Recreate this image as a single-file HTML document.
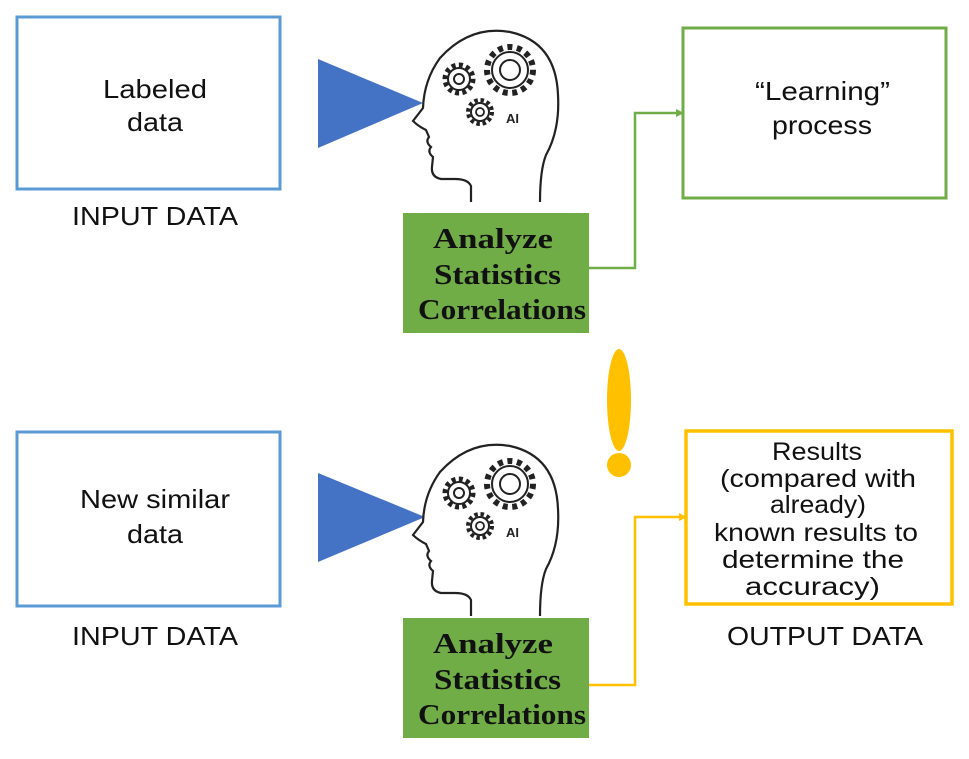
<!DOCTYPE html>
<html><head><meta charset="utf-8"><style>
body{margin:0;background:#fff;width:969px;height:754px;overflow:hidden;font-family:"Liberation Sans",sans-serif}
</style></head><body>
<svg width="969" height="754" xmlns="http://www.w3.org/2000/svg" font-family="Liberation Sans, sans-serif">
<defs>
<g id="head">
<path d="M471,202 L471,186 Q468,179 455,179 L441,179 Q431,177 432,167 L433,157 Q427,152 431,147 Q425,142 429,137 L426,130 Q418,126 413,121 L423,108 Q424,80 440,58 Q470,25 510,32 Q556,42 558,95 Q560,130 546,155 Q540,170 540,202" fill="none" stroke="#222" stroke-width="2.2"/>
<circle cx="510" cy="70" r="18" fill="none" stroke="#222" stroke-width="2"/>
<circle cx="510" cy="70" r="23" fill="none" stroke="#222" stroke-width="6" stroke-dasharray="5 4.6"/>
<circle cx="510" cy="70" r="10" fill="none" stroke="#222" stroke-width="2"/>
<circle cx="459" cy="79" r="11" fill="none" stroke="#222" stroke-width="2"/>
<circle cx="459" cy="79" r="14" fill="none" stroke="#222" stroke-width="5" stroke-dasharray="4 3.3"/>
<circle cx="459" cy="79" r="5" fill="none" stroke="#222" stroke-width="2"/>
<circle cx="480" cy="112" r="9" fill="none" stroke="#222" stroke-width="2"/>
<circle cx="480" cy="112" r="12" fill="none" stroke="#222" stroke-width="4" stroke-dasharray="3.5 2.8"/>
<circle cx="480" cy="112" r="4" fill="none" stroke="#222" stroke-width="1.8"/>
<text x="506" y="123" font-size="13" font-weight="bold" fill="#222">AI</text>
</g>
</defs>
<g font-size="26" fill="#111" lengthAdjust="spacingAndGlyphs">
<!-- top -->
<rect x="17" y="17" width="263" height="172" fill="none" stroke="#5b9bd5" stroke-width="3"/>
<text x="103" y="98" textLength="104" lengthAdjust="spacingAndGlyphs">Labeled</text>
<text x="127" y="131" textLength="56" lengthAdjust="spacingAndGlyphs">data</text>
<text x="72" y="225" textLength="166" lengthAdjust="spacingAndGlyphs">INPUT DATA</text>
<polygon points="318,59 423,103 318,148" fill="#4472c4"/>
<use href="#head"/>
<rect x="403" y="213" width="186" height="120" fill="#70ad47"/>
<g font-family="Liberation Serif, serif" font-weight="bold" font-size="28" fill="#111">
<text x="433" y="248" textLength="120" lengthAdjust="spacingAndGlyphs">Analyze</text>
<text x="434" y="284" textLength="127" lengthAdjust="spacingAndGlyphs">Statistics</text>
<text x="418" y="319" textLength="168" lengthAdjust="spacingAndGlyphs">Correlations</text></g>
<polyline points="589,268 635,268 635,113 676,113" fill="none" stroke="#70ad47" stroke-width="2.5"/>
<polygon points="676,109 684,113 676,117" fill="#70ad47"/>
<rect x="683" y="28" width="263" height="170" fill="none" stroke="#70ad47" stroke-width="3"/>
<text x="755" y="100" textLength="135" lengthAdjust="spacingAndGlyphs">“Learning”</text>
<text x="772" y="134" textLength="100" lengthAdjust="spacingAndGlyphs">process</text>
<!-- exclamation -->
<ellipse cx="619" cy="400" rx="12" ry="51" fill="#ffc000"/>
<ellipse cx="619" cy="465" rx="12" ry="12" fill="#ffc000"/>
<!-- bottom -->
<rect x="17" y="432" width="263" height="174" fill="none" stroke="#5b9bd5" stroke-width="3"/>
<text x="80" y="508" textLength="150" lengthAdjust="spacingAndGlyphs">New similar</text>
<text x="127" y="543" textLength="56" lengthAdjust="spacingAndGlyphs">data</text>
<text x="72" y="645" textLength="166" lengthAdjust="spacingAndGlyphs">INPUT DATA</text>
<polygon points="318,473 425,517 318,562" fill="#4472c4"/>
<g transform="translate(0,414)"><use href="#head"/></g>
<rect x="403" y="618" width="186" height="120" fill="#70ad47"/>
<g font-family="Liberation Serif, serif" font-weight="bold" font-size="28" fill="#111">
<text x="433" y="653" textLength="120" lengthAdjust="spacingAndGlyphs">Analyze</text>
<text x="434" y="689" textLength="127" lengthAdjust="spacingAndGlyphs">Statistics</text>
<text x="418" y="724" textLength="168" lengthAdjust="spacingAndGlyphs">Correlations</text></g>
<polyline points="589,685 635,685 635,517 680,517" fill="none" stroke="#ffc000" stroke-width="2.5"/>
<polygon points="679,513 687,517 679,521" fill="#ffc000"/>
<rect x="686" y="431" width="266" height="173" fill="none" stroke="#ffc000" stroke-width="3.5"/>
<g font-size="25">
<text x="772" y="460" textLength="90" lengthAdjust="spacingAndGlyphs">Results</text>
<text x="720" y="487" textLength="196" lengthAdjust="spacingAndGlyphs">(compared with</text>
<text x="770" y="513" textLength="96" lengthAdjust="spacingAndGlyphs">already)</text>
<text x="714" y="541" textLength="204" lengthAdjust="spacingAndGlyphs">known results to</text>
<text x="722" y="568" textLength="182" lengthAdjust="spacingAndGlyphs">determine the</text>
<text x="745" y="595" textLength="135" lengthAdjust="spacingAndGlyphs">accuracy)</text></g>
<text x="727" y="645" textLength="196" lengthAdjust="spacingAndGlyphs">OUTPUT DATA</text>
</g>
</svg>
</body></html>
